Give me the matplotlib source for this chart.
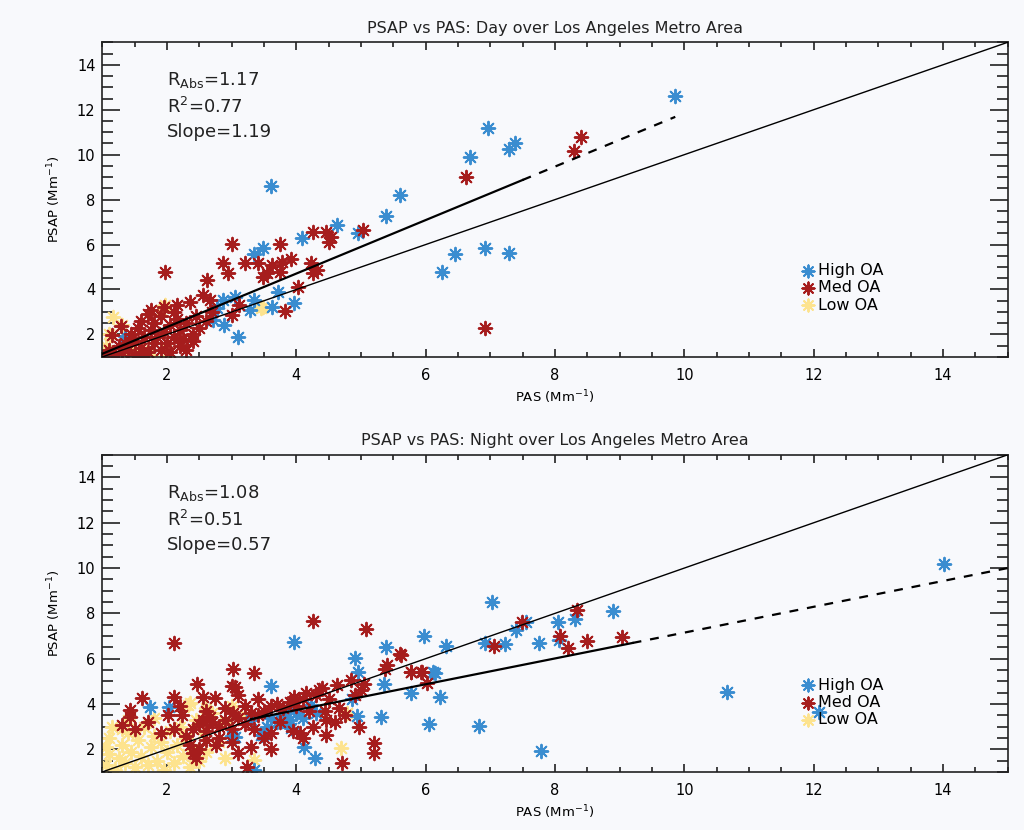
import numpy as np
import matplotlib.pyplot as plt
from matplotlib.ticker import MultipleLocator

# ---- top panel (day) ----
day_high_x = [9.86, 6.97, 7.38, 7.29, 6.68, 3.6, 5.6, 5.38, 4.63, 4.95, 6.45, 6.92, 7.29, 6.25,
              4.08, 3.48, 3.34, 3.72, 3.97, 3.63, 3.35, 3.28, 3.05, 2.86, 2.88, 3.09, 2.78, 2.71, 1.35]
day_high_y = [12.6, 11.2, 10.5, 10.24, 9.9, 8.6, 8.2, 7.27, 6.87, 6.5, 5.58, 5.84, 5.62, 4.78,
              6.29, 5.84, 5.58, 3.89, 3.4, 3.22, 3.53, 3.09, 3.67, 3.53, 2.42, 1.89, 3.18, 2.64, 1.95]

day_med_x = [1.05, 1.1, 1.15, 1.2, 1.25, 1.28, 1.3, 1.35, 1.4, 1.45, 1.5, 1.5, 1.55, 1.6, 1.6, 1.65,
             1.7, 1.7, 1.75, 1.75, 1.8, 1.8, 1.85, 1.9, 1.9, 1.95, 2.0, 2.05, 2.05, 2.1, 2.1, 2.15,
             2.2, 2.2, 2.25, 2.3, 2.35, 2.4, 2.45, 2.5, 2.55, 2.6, 2.62, 2.66, 2.7, 2.4, 2.3, 1.6,
             1.95, 2.15,
             1.97, 3.0, 3.75, 4.25, 4.46, 4.5, 2.86, 3.2, 2.94, 3.4, 3.63, 3.77, 3.92, 3.74, 3.48,
             3.54, 4.23, 4.32, 4.25, 4.02, 3.0, 3.82, 3.12, 4.54, 5.03, 6.62, 8.29, 8.4, 6.92]
day_med_y = [1.1, 1.3, 1.98, 1.15, 1.5, 2.38, 1.2, 1.6, 1.3, 2.0, 1.1, 1.7, 2.3, 1.4, 2.6, 1.9,
             2.9, 1.2, 2.2, 3.1, 1.6, 2.5, 1.9, 1.3, 2.8, 2.1, 1.6, 2.4, 1.2, 3.0, 1.9, 2.7,
             1.5, 2.2, 1.8, 2.5, 3.44, 2.0, 2.8, 2.3, 3.76, 2.6, 4.42, 3.53, 3.0, 1.7, 1.3, 1.05,
             3.2, 3.3,
             4.78, 6.02, 6.02, 6.56, 6.56, 6.1, 5.18, 5.18, 4.73, 5.18, 5.09, 5.22, 5.36, 4.78, 4.56,
             4.73, 5.18, 4.87, 4.73, 4.11, 2.87, 3.04, 3.31, 6.33, 6.64, 9.0, 10.16, 10.78, 2.29]

day_low_x = [1.17, 1.97, 1.63, 2.0, 3.48, 1.05, 1.1, 1.2, 1.4, 1.5, 1.75, 2.0, 1.3, 1.9, 3.46]
day_low_y = [2.78, 3.3, 1.3, 1.4, 3.22, 1.5, 2.0, 1.05, 1.1, 1.3, 1.1, 1.05, 2.4, 3.1, 3.18]

# ---- bottom panel (night) ----
night_high_x = [14.02, 10.66, 12.09, 7.03, 8.89, 8.05, 8.31, 7.4, 7.55, 5.98, 6.31, 6.91, 7.22,
                7.75, 8.06, 6.14, 5.77, 6.22, 6.05, 6.82, 7.78, 3.97, 5.38, 4.9, 4.95, 6.12, 5.35,
                4.86, 4.23, 4.94, 5.31, 3.85, 3.92, 4.12, 4.29, 3.6, 1.74, 2.03, 3.0, 3.48, 3.35,
                3.6, 3.7, 3.8, 3.9, 4.0, 4.1, 3.55, 4.3, 3.3, 3.46, 3.05]
night_high_y = [10.16, 4.54, 3.65, 8.52, 8.12, 7.64, 7.73, 7.28, 7.64, 7.02, 6.58, 6.7, 6.66,
                6.7, 6.84, 5.38, 4.5, 4.32, 3.12, 3.04, 1.93, 6.75, 6.53, 6.04, 5.42, 5.42, 4.89,
                4.23, 3.96, 3.48, 3.43, 3.17, 2.95, 2.1, 1.62, 4.8, 3.85, 3.85, 2.59, 2.64, 1.08,
                3.4, 3.2, 3.5, 3.3, 3.6, 3.4, 3.0, 3.6, 3.3, 2.64, 2.55]

night_med_x = [7.49, 8.34, 8.08, 8.2, 8.5, 9.03, 7.06, 5.6, 5.77, 5.92, 6.02, 4.25, 5.08, 5.62,
               5.37, 5.4, 5.78, 5.94, 4.85, 4.63, 5.05, 4.4, 4.15, 3.97, 4.66, 4.97, 4.46, 4.25,
               4.05, 4.46, 5.2, 5.2, 4.71, 2.11, 3.02, 3.34, 3.05, 3.0, 2.46, 1.62, 2.11, 2.55,
               2.74, 1.42, 1.43, 1.31, 2.02, 2.23, 2.55, 2.66, 3.02, 3.09, 3.23, 2.4,
               2.4, 2.5, 2.6, 2.7, 2.8, 2.9, 3.0, 3.1, 3.2, 3.3, 3.4, 3.5, 3.6, 3.7, 3.8, 3.9,
               4.0, 4.1, 4.2, 4.3, 3.2, 2.9, 2.6, 2.3, 2.35, 2.45, 2.5, 2.6, 2.8, 3.0, 3.3, 3.5,
               3.6, 1.5, 1.7, 1.9, 2.1, 3.1, 3.4, 2.2, 3.35,
               3.6, 3.95, 4.45, 4.6, 4.75, 4.9, 5.0, 4.35, 4.5, 3.75, 4.1, 2.75]
night_med_y = [7.64, 8.17, 7.02, 6.49, 6.8, 6.97, 6.58, 6.2, 5.42, 5.42, 4.94, 7.68, 7.33, 6.18,
               5.56, 5.7, 5.42, 5.42, 5.07, 4.85, 4.89, 4.72, 4.5, 4.32, 3.83, 2.99, 3.3, 2.99,
               2.73, 2.64, 2.28, 1.84, 1.4, 6.71, 5.56, 5.38, 4.76, 4.8, 4.89, 4.27, 4.32, 4.32,
               4.27, 3.74, 3.43, 3.08, 3.52, 3.52, 3.3, 3.43, 3.6, 1.84, 1.22, 1.84,
               2.9, 3.1, 2.8, 3.2, 3.0, 3.3, 2.9, 3.4, 3.1, 3.6, 3.5, 3.7, 3.9, 4.0, 3.8, 4.1,
               3.9, 4.2, 3.7, 4.4, 3.9, 3.8, 3.7, 2.6, 2.2, 1.6, 2.0, 2.4, 2.5, 2.3, 2.1, 2.5,
               2.0, 2.9, 3.2, 2.7, 2.9, 4.4, 4.2, 3.9, 2.9,
               2.7, 2.8, 3.7, 3.2, 3.5, 4.4, 4.6, 4.6, 4.2, 3.2, 2.5, 2.2]

night_low_x = [1.05, 1.1, 1.1, 1.2, 1.25, 1.3, 1.35, 1.4, 1.45, 1.5, 1.55, 1.6, 1.65, 1.7, 1.75,
               1.8, 1.85, 1.9, 1.95, 2.0, 2.05, 2.1, 2.15, 2.2, 2.25, 2.3, 2.35, 2.4, 2.45, 2.5,
               2.55, 2.6, 2.7, 2.8, 2.9, 2.32, 4.78, 4.69, 3.35, 2.35, 1.15, 1.05, 1.3,
               2.6, 3.0, 2.9, 3.2, 1.4, 1.8]
night_low_y = [1.3, 1.8, 2.5, 1.1, 1.6, 2.2, 1.4, 2.7, 1.9, 1.2, 2.4, 1.7, 3.0, 1.3, 2.1,
               2.6, 1.5, 2.3, 1.1, 1.9, 2.8, 1.4, 2.2, 3.0, 1.7, 2.5, 1.2, 2.0, 3.3, 1.5,
               2.7, 1.9, 3.6, 2.3, 1.6, 3.96, 3.61, 2.06, 1.53, 4.05, 3.0, 2.1, 2.9,
               3.8, 3.9, 3.2, 3.5, 3.3, 3.4]

# fit lines: slope, intercept, start x, end of solid part, end of dashed part
day_stats = ['R$_{\\mathrm{Abs}}$=1.17', 'R$^{2}$=0.77', 'Slope=1.19']
night_stats = ['R$_{\\mathrm{Abs}}$=1.08', 'R$^{2}$=0.51', 'Slope=0.57']
day_fit = (1.19, -0.05, 1.0, 7.5, 9.86)
night_fit = (0.57, 1.45, 3.3, 9.2, 15.0)

c_high = '#3a8dd0'
c_med = '#a61d1d'
c_low = '#fde38e'
bg = '#f8f9fc'
star = (8, 2, 0)

fig = plt.figure(figsize=(10.24, 8.3), dpi=100, facecolor=bg)
ax1 = fig.add_axes([0.1, 0.570, 0.884, 0.379])
ax2 = fig.add_axes([0.1, 0.070, 0.884, 0.382])


def panel(ax, title, hx, hy, mx, my, lx, ly, fit, stats):
    ax.set_facecolor(bg)
    l = ax.scatter(lx, ly, marker=star, s=95, color=c_low, linewidths=1.4, zorder=2, label='Low OA')
    h = ax.scatter(hx, hy, marker=star, s=95, color=c_high, linewidths=1.4, zorder=2, label='High OA')
    m = ax.scatter(mx, my, marker=star, s=95, color=c_med, linewidths=1.4, zorder=2, label='Med OA')
    # one-to-one line
    ax.plot([1, 15], [1, 15], color='black', lw=1.0, zorder=3)
    slope, icpt, x0, x1, x2 = fit
    xs = np.array([x0, x1])
    ax.plot(xs, slope * xs + icpt, color='black', lw=1.6, zorder=3)
    xd = np.array([x1, x2])
    ax.plot(xd, slope * xd + icpt, color='black', lw=1.6, ls=(0, (4, 4)), zorder=3)

    ax.set_xlim(1, 15)
    ax.set_ylim(1, 15)
    ax.xaxis.set_major_locator(MultipleLocator(2))
    ax.xaxis.set_minor_locator(MultipleLocator(0.5))
    ax.yaxis.set_major_locator(MultipleLocator(2))
    ax.yaxis.set_minor_locator(MultipleLocator(0.5))
    ax.tick_params(axis='both', which='both', direction='in', top=True, right=True,
                   labelsize=10.5, width=1.2, color='#222222')
    ax.tick_params(axis='x', which='major', length=6, pad=8)
    ax.tick_params(axis='x', which='minor', length=3.5)
    ax.tick_params(axis='y', which='major', length=13, pad=5)
    ax.tick_params(axis='y', which='minor', length=8)
    for sp in ax.spines.values():
        sp.set_linewidth(1.2)
        sp.set_color('#222222')

    ax.set_title(title, fontsize=11.5, pad=7, color='#222222')
    ax.set_xlabel('PAS (Mm$^{-1}$)', fontsize=9.5, labelpad=4)
    ax.set_ylabel('PSAP (Mm$^{-1}$)', fontsize=9.5, labelpad=10)

    for txt, yy in zip(stats, [0.88, 0.795, 0.715]):
        ax.text(0.071, yy, txt, transform=ax.transAxes, fontsize=13, va='center', color='#222222')

    ax.legend(handles=[h, m, l], loc='lower right', bbox_to_anchor=(0.875, 0.105), frameon=False,
              fontsize=11.5, handletextpad=0.0, labelspacing=0.15, borderpad=0.2,
              handlelength=1.2, markerscale=0.9)


panel(ax1, 'PSAP vs PAS: Day over Los Angeles Metro Area',
      day_high_x, day_high_y, day_med_x, day_med_y, day_low_x, day_low_y, day_fit, day_stats)
panel(ax2, 'PSAP vs PAS: Night over Los Angeles Metro Area',
      night_high_x, night_high_y, night_med_x, night_med_y, night_low_x, night_low_y, night_fit, night_stats)

plt.savefig('out.png', dpi=100, facecolor=bg)
